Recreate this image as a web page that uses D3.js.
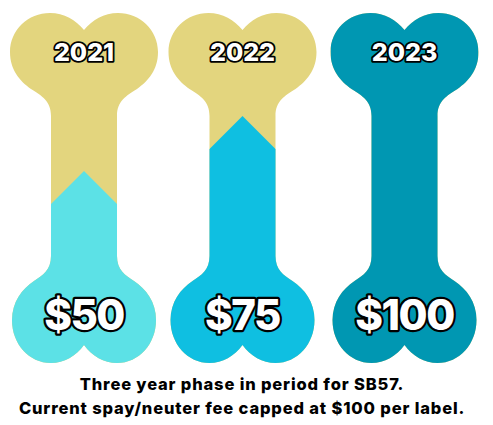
<!DOCTYPE html>
<html>
<head>
<meta charset="utf-8">
<script src="https://cdn.jsdelivr.net/npm/d3@7"></script>
<style>
  html, body { margin: 0; padding: 0; background: #fff; }
  svg { display: block; }
  text { font-family: Inter, "Open Sans", sans-serif; }
</style>
</head>
<body>
<script>
// chart values
var years = ["2021", "2022", "2023"];
var fees = [50, 75, 100];
var feeLabels = ["$50", "$75", "$100"];
var fillColors = ["#5ce1e6", "#0fbfe1", "#0097b2"];
var footerLines = [
  "Three year phase in period for SB57.",
  "Current spay/neuter fee capped at $100 per label."
];

var width = 493, height = 425;
var emptyColor = "#e3d57e";

var svg = d3.select("body").append("svg")
  .attr("width", width)
  .attr("height", height);

var x = d3.scaleOrdinal().domain(years).range([84, 242.5, 404.5]);
// level of the chevron tip; $100 overfills the bone so it goes past the top
var y = d3.scaleLinear().domain([50, 75, 100]).range([171, 116, -40]);

var chevron = 33, shaftHalf = 33;

// bone outline around its own centre line
function bonePath() {
  var p = d3.path();
  function curves(list) {
    list.forEach(function(c) { p.bezierCurveTo(c[0],c[1],c[2],c[3],c[4],c[5]); });
  }
  p.moveTo(0, 30);
  curves([[-8,20, -20,13, -34,13],
          [-56,13, -74,30, -74,52],
          [-74,70, -64,81, -53,89],
          [-42,96, -33,101, -33,116]]);
  p.lineTo(-33, 256);
  curves([[-33,270, -41,275, -50,281],
          [-62,289, -72,302, -72,320],
          [-72,344, -55,363, -33,363],
          [-20,363, -8,356, 0,345]]);
  curves([[8,356, 20,363, 33,363],
          [55,363, 72,344, 72,320],
          [72,302, 62,289, 50,281],
          [41,275, 33,270, 33,256]]);
  p.lineTo(33, 116);
  curves([[33,101, 42,96, 53,89],
          [64,81, 74,70, 74,52],
          [74,30, 56,13, 34,13],
          [20,13, 8,20, 0,30]]);
  p.closePath();
  return p.toString();
}

var boneD = bonePath();

svg.append("defs").append("clipPath")
  .attr("id", "boneClip")
  .append("path")
  .attr("d", boneD);

var line = d3.line();

var bones = svg.selectAll("g.bone")
  .data(years)
  .enter()
  .append("g")
  .attr("class", "bone")
  .attr("transform", function(d) { return "translate(" + x(d) + ",0)"; });

bones.append("path")
  .attr("d", boneD)
  .attr("fill", emptyColor);

bones.append("g")
  .attr("clip-path", "url(#boneClip)")
  .append("path")
  .attr("fill", function(d, i) { return fillColors[i]; })
  .attr("d", function(d, i) {
    var tip = y(fees[i]);
    return line([
      [-90, tip + chevron], [-shaftHalf, tip + chevron], [0, tip],
      [shaftHalf, tip + chevron], [90, tip + chevron], [90, height], [-90, height]
    ]) + "Z";
  });

function outlined(sel, size, sw, spacing) {
  sel.attr("text-anchor", "middle")
    .attr("font-size", size)
    .attr("font-weight", 800)
    .attr("letter-spacing", spacing)
    .attr("fill", "#fff")
    .attr("stroke", "#000")
    .attr("stroke-width", sw)
    .attr("stroke-linejoin", "round")
    .attr("paint-order", "stroke");
}

bones.append("text")
  .text(function(d) { return d; })
  .attr("y", 61)
  .call(outlined, 25, 3.6, 0);

bones.append("text")
  .text(function(d, i) { return feeLabels[i]; })
  .attr("y", 330)
  .call(outlined, 42, 4.5, -1.5);

svg.selectAll("text.footer")
  .data(footerLines)
  .enter()
  .append("text")
  .attr("class", "footer")
  .attr("x", 242)
  .attr("y", function(d, i) { return 390 + i * 24; })
  .attr("text-anchor", "middle")
  .attr("font-size", 16.5)
  .attr("font-weight", 800)
  .attr("letter-spacing", 0.85)
  .attr("fill", "#000")
  .text(function(d) { return d; });
</script>
</body>
</html>
